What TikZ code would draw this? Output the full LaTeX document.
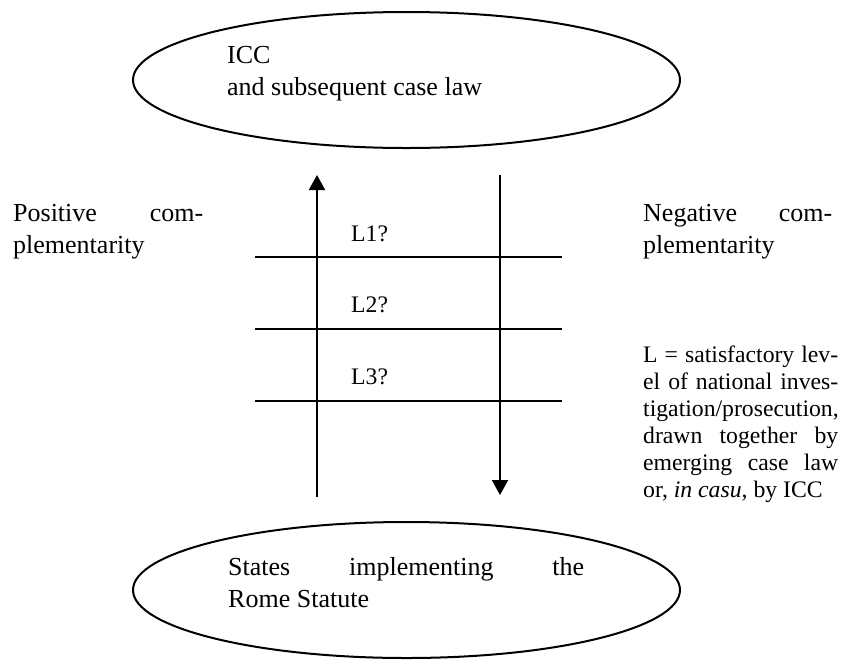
\documentclass[tikz,border=0pt]{standalone}
\usepackage{fontspec}
\setmainfont{Liberation Serif}
\usetikzlibrary{shapes.geometric,arrows.meta}
\begin{document}
\begin{tikzpicture}[x=1pt,y=-1pt,
  bubble/.style={draw,ellipse,line width=2pt,minimum width=547pt,minimum height=136pt,inner sep=0pt},
  lbl/.style={anchor=base west,inner sep=0pt,font=\fontsize{26}{32}\selectfont},
  small/.style={anchor=base west,inner sep=0pt,font=\fontsize{23.7}{27}\selectfont},
  rule/.style={line width=2pt},
  flow/.style={line width=2pt,-{Triangle[width=16pt,length=15pt]}}]
\useasboundingbox (0,0) rectangle (845,662);
% ellipses
\node[bubble] (icc) at (406.5,80) {};
\node[bubble] (states) at (406.5,590) {};
\node[lbl] (icctext) at (227,63) {\parbox[t]{356pt}{ICC\\and subsequent case law}};
\node[lbl] (statestext) at (228,575) {\parbox[t]{356pt}{\makebox[\linewidth][s]{States implementing the}\\Rome Statute}};
% side labels
\node[lbl] (pos) at (13,221) {\parbox[t]{190pt}{\makebox[\linewidth][s]{Positive com-}\\plementarity}};
\node[lbl] (neg) at (643,221) {\parbox[t]{189pt}{\makebox[\linewidth][s]{Negative com-}\\plementarity}};
\node[small] (def) at (643,362) {\parbox[t]{195pt}{\makebox[\linewidth][s]{L = satisfactory lev-}\\
\makebox[\linewidth][s]{el of national inves-}\\
tigation/prosecution,\\
\makebox[\linewidth][s]{drawn together by}\\
\makebox[\linewidth][s]{emerging case law}\\
or, \textit{in casu}, by ICC}};
% levels
\node[small] (l1) at (351,241) {L1?};
\node[small] (l2) at (351,312) {L2?};
\node[small] (l3) at (351,384) {L3?};
\coordinate (h1l) at (255,257); \coordinate (h1r) at (562,257);
\coordinate (h2l) at (255,329); \coordinate (h2r) at (562,329);
\coordinate (h3l) at (255,401); \coordinate (h3r) at (562,401);
\draw[rule] (h1l) -- (h1r);
\draw[rule] (h2l) -- (h2r);
\draw[rule] (h3l) -- (h3r);
% arrows
\coordinate (upbot) at (317,497); \coordinate (uptop) at (317,175);
\coordinate (dntop) at (500,175); \coordinate (dnbot) at (500,495);
\draw[flow] (upbot) -- (uptop);
\draw[flow] (dntop) -- (dnbot);
\end{tikzpicture}
\end{document}
